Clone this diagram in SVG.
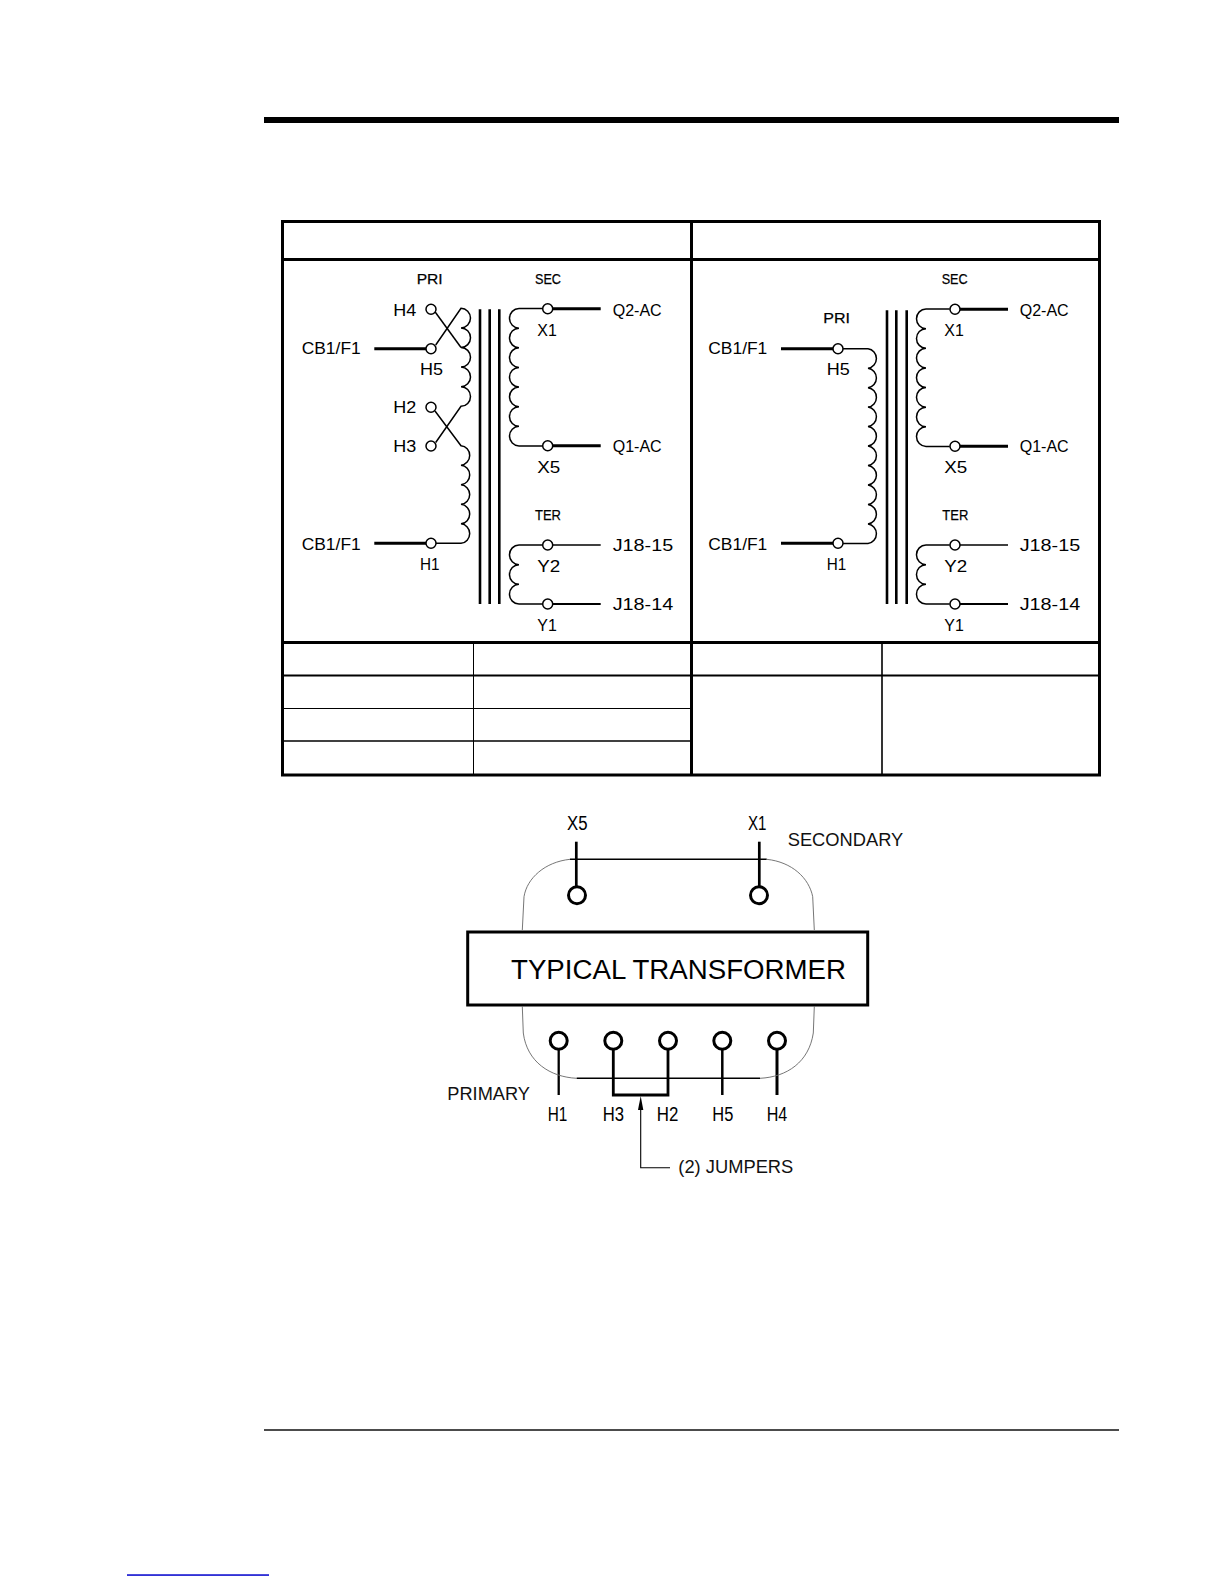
<svg xmlns="http://www.w3.org/2000/svg" width="1225" height="1585" viewBox="0 0 1225 1585">
<style>
text{font-family:"Liberation Sans",Arial,sans-serif;fill:#000}
.c{font-size:16.5px}
.l{font-size:19.5px}
.t{font-size:15px;stroke:#000;stroke-width:.25}
.h{font-size:17.5px;fill:#111}
.w{fill:none;stroke:#000;stroke-width:1.5}
.w2{fill:none;stroke:#000;stroke-width:2}
.b{fill:none;stroke:#000;stroke-width:3}
.core{fill:none;stroke:#000;stroke-width:2.6}
.tb{stroke:#000;stroke-width:3;fill:none}
.g{fill:none;stroke:#666;stroke-width:.9}
.n{fill:#fff;stroke:#000;stroke-width:1.5}
.m{fill:#fff;stroke:#000;stroke-width:3}
</style>
<rect width="1225" height="1585" fill="#fff"/>
<g id="page-rules">
<rect x="264" y="117" width="855" height="6" fill="#000"/>
<rect x="264" y="1429.3" width="855" height="1.4" fill="#000"/>
<rect x="127" y="1574.3" width="142" height="1.5" fill="#0000cc"/>
</g>
<g id="table">
<rect class="tb" x="282.5" y="221.5" width="817" height="553.5"/>
<path class="tb" d="M282.5,259.5H1099.5M282.5,642.5H1099.5M691.5,221.5V775"/>
<path d="M282.5,675.5H1099.5" stroke="#000" stroke-width="2" fill="none"/>
<path d="M282.5,708.5H691.5" stroke="#000" stroke-width="1" fill="none"/>
<path d="M282.5,741H691.5" stroke="#000" stroke-width="1.6" fill="none"/>
<path d="M473.5,642.5V775" stroke="#000" stroke-width="1" fill="none"/>
<path d="M882,642.5V775" stroke="#000" stroke-width="1.6" fill="none"/>
</g>
<g id="connectors">
<g id="left-wiring">
<path class="w" d="M435.7,345L461,308.3a9.5,9.8 0 0 1 0,19.6a9.5,9.8 0 0 1 0,19.6a9.5,9.8 0 0 1 0,19.6a9.5,9.8 0 0 1 0,19.6a9.5,9.8 0 0 1 0,19.6L435.7,442.5"/>
<path class="w" d="M435,311.7L461,347.5"/>
<path class="w" d="M435,411L461,445.7a9.5,9.8 0 0 1 0,19.53a9.5,9.8 0 0 1 0,19.53a9.5,9.8 0 0 1 0,19.53a9.5,9.8 0 0 1 0,19.53a9.5,9.8 0 0 1 0,19.53H436"/>
<path class="b" d="M374.3,348.7H426M374.3,543.3H426"/>
<path class="core" d="M480,309.3V604M489.7,309.3V604M499.3,309.3V604"/>
<path class="w" d="M542.7,308.5H519a9.5,9.8 0 0 0 0,19.63a9.5,9.8 0 0 0 0,19.63a9.5,9.8 0 0 0 0,19.63a9.5,9.8 0 0 0 0,19.63a9.5,9.8 0 0 0 0,19.63a9.5,9.8 0 0 0 0,19.63a9.5,9.8 0 0 0 0,19.63H542.7"/>
<path class="b" d="M553,308.7H600.7M553,445.7H600.7"/>
<path class="w" d="M542.7,545H519a9.5,9.8 0 0 0 0,19.67a9.5,9.8 0 0 0 0,19.67a9.5,9.8 0 0 0 0,19.67H542.7"/>
<path class="w" d="M553,545H600.7"/>
<path class="w2" d="M553,604H600.7"/>
</g>
<g id="right-wiring">
<path class="w" d="M843,348.7H868a9.5,9.8 0 0 1 0,19.47a9.5,9.8 0 0 1 0,19.47a9.5,9.8 0 0 1 0,19.47a9.5,9.8 0 0 1 0,19.47a9.5,9.8 0 0 1 0,19.47a9.5,9.8 0 0 1 0,19.47a9.5,9.8 0 0 1 0,19.47a9.5,9.8 0 0 1 0,19.47a9.5,9.8 0 0 1 0,19.47a9.5,9.8 0 0 1 0,19.47H843"/>
<path class="b" d="M781,348.7H833M781,543.3H833"/>
<path class="core" d="M887,310.3V604M896.3,310.3V604M906.7,310.3V604"/>
<path class="w" d="M949.7,309H926a9.5,9.8 0 0 0 0,19.63a9.5,9.8 0 0 0 0,19.63a9.5,9.8 0 0 0 0,19.63a9.5,9.8 0 0 0 0,19.63a9.5,9.8 0 0 0 0,19.63a9.5,9.8 0 0 0 0,19.63a9.5,9.8 0 0 0 0,19.63H949.7"/>
<path class="b" d="M960,309.2H1008M960,446.3H1008"/>
<path class="w" d="M949.7,545H926a9.5,9.8 0 0 0 0,19.67a9.5,9.8 0 0 0 0,19.67a9.5,9.8 0 0 0 0,19.67H949.7"/>
<path class="w" d="M960,545H1008"/>
<path class="w2" d="M960,604H1008"/>
</g>
<g id="transformer-wiring">
<path d="M576.3,841.7V887" stroke="#000" stroke-width="2.7" fill="none"/>
<path d="M759.3,841.7V887" stroke="#000" stroke-width="2.7" fill="none"/>
<path d="M558.7,1049V1095" stroke="#000" stroke-width="2.3" fill="none"/>
<path d="M613.3,1049V1095H668V1049" stroke="#000" stroke-width="2.8" fill="none"/>
<path d="M722.3,1049V1095" stroke="#000" stroke-width="2.5" fill="none"/>
<path d="M777,1049V1095" stroke="#000" stroke-width="3" fill="none"/>
<path d="M670,1167.7H640.7V1108" stroke="#000" stroke-width="1.1" fill="none"/>
<path d="M640.7,1096L643.3,1110H638Z" fill="#000"/>
</g>
</g>
<g id="left-schematic">
<text class="t" x="416.7" y="284" textLength="26" lengthAdjust="spacingAndGlyphs">PRI</text>
<text class="t" x="535" y="284" textLength="26" lengthAdjust="spacingAndGlyphs">SEC</text>
<text class="t" x="535" y="520" textLength="26" lengthAdjust="spacingAndGlyphs">TER</text>
<g id="L-H4"><circle class="n" cx="431" cy="309.3" r="5"/><text class="c" x="393.3" y="315.7" textLength="23" lengthAdjust="spacingAndGlyphs">H4</text></g>
<g id="L-H5"><circle class="n" cx="431" cy="348.7" r="5"/><text class="c" x="420" y="375" textLength="23" lengthAdjust="spacingAndGlyphs">H5</text></g>
<g id="L-H2"><circle class="n" cx="431" cy="407.3" r="5"/><text class="c" x="393.3" y="412.7" textLength="23" lengthAdjust="spacingAndGlyphs">H2</text></g>
<g id="L-H3"><circle class="n" cx="431" cy="446" r="5"/><text class="c" x="393.3" y="451.7" textLength="23" lengthAdjust="spacingAndGlyphs">H3</text></g>
<g id="L-H1"><circle class="n" cx="431" cy="543.3" r="5"/><text class="c" x="420" y="570" textLength="19.5" lengthAdjust="spacingAndGlyphs">H1</text></g>
<text class="c" x="301.7" y="354" textLength="59" lengthAdjust="spacingAndGlyphs">CB1/F1</text>
<text class="c" x="301.7" y="550" textLength="59" lengthAdjust="spacingAndGlyphs">CB1/F1</text>
<g id="L-X1"><circle class="n" cx="547.7" cy="308.7" r="5"/><text class="c" x="537.3" y="336" textLength="19.5" lengthAdjust="spacingAndGlyphs">X1</text></g>
<g id="L-X5"><circle class="n" cx="547.7" cy="445.7" r="5"/><text class="c" x="537.3" y="472.7" textLength="23" lengthAdjust="spacingAndGlyphs">X5</text></g>
<g id="L-Y2"><circle class="n" cx="547.7" cy="545" r="5"/><text class="c" x="537.3" y="572.3" textLength="23" lengthAdjust="spacingAndGlyphs">Y2</text></g>
<g id="L-Y1"><circle class="n" cx="547.7" cy="604" r="5"/><text class="c" x="537.3" y="630.7" textLength="19.5" lengthAdjust="spacingAndGlyphs">Y1</text></g>
<text class="c" x="612.7" y="315.7" textLength="49" lengthAdjust="spacingAndGlyphs">Q2-AC</text>
<text class="c" x="612.7" y="451.7" textLength="49" lengthAdjust="spacingAndGlyphs">Q1-AC</text>
<text class="c" x="612.7" y="551" textLength="60.5" lengthAdjust="spacingAndGlyphs">J18-15</text>
<text class="c" x="612.7" y="610" textLength="60.5" lengthAdjust="spacingAndGlyphs">J18-14</text>
</g>
<g id="right-schematic">
<text class="t" x="823.3" y="323.3" textLength="26.7" lengthAdjust="spacingAndGlyphs">PRI</text>
<text class="t" x="941.7" y="284" textLength="26" lengthAdjust="spacingAndGlyphs">SEC</text>
<text class="t" x="942.3" y="520" textLength="26" lengthAdjust="spacingAndGlyphs">TER</text>
<g id="R-H5"><circle class="n" cx="838" cy="348.7" r="5"/><text class="c" x="826.7" y="375" textLength="23" lengthAdjust="spacingAndGlyphs">H5</text></g>
<g id="R-H1"><circle class="n" cx="838" cy="543.3" r="5"/><text class="c" x="826.7" y="570" textLength="19.5" lengthAdjust="spacingAndGlyphs">H1</text></g>
<text class="c" x="708.3" y="354" textLength="59" lengthAdjust="spacingAndGlyphs">CB1/F1</text>
<text class="c" x="708.3" y="550" textLength="59" lengthAdjust="spacingAndGlyphs">CB1/F1</text>
<g id="R-X1"><circle class="n" cx="955" cy="309.2" r="5"/><text class="c" x="944.3" y="336" textLength="19.5" lengthAdjust="spacingAndGlyphs">X1</text></g>
<g id="R-X5"><circle class="n" cx="955" cy="446.3" r="5"/><text class="c" x="944.3" y="472.7" textLength="23" lengthAdjust="spacingAndGlyphs">X5</text></g>
<g id="R-Y2"><circle class="n" cx="955" cy="545" r="5"/><text class="c" x="944.3" y="572.3" textLength="23" lengthAdjust="spacingAndGlyphs">Y2</text></g>
<g id="R-Y1"><circle class="n" cx="955" cy="604" r="5"/><text class="c" x="944.3" y="630.7" textLength="19.5" lengthAdjust="spacingAndGlyphs">Y1</text></g>
<text class="c" x="1019.7" y="315.7" textLength="49" lengthAdjust="spacingAndGlyphs">Q2-AC</text>
<text class="c" x="1019.7" y="451.7" textLength="49" lengthAdjust="spacingAndGlyphs">Q1-AC</text>
<text class="c" x="1019.7" y="551" textLength="60.5" lengthAdjust="spacingAndGlyphs">J18-15</text>
<text class="c" x="1019.7" y="610" textLength="60.5" lengthAdjust="spacingAndGlyphs">J18-14</text>
</g>
<g id="transformer">
<path class="w" d="M570,859.3H766.7"/>
<path class="g" d="M570,859.3C545,862 527,878 524,896.7L522.3,930M766.7,859.3C792,862 809,878 812.7,896.7L814.3,930"/>
<path class="g" d="M522.3,1006.7L523.3,1033C527,1062 550,1077 576.7,1078.3M814.3,1006.7L813.3,1033C809,1062 787,1077 760,1078.3"/>
<path class="w" d="M576.7,1078.3H760"/>
<rect x="467.7" y="932" width="400" height="73" fill="none" stroke="#000" stroke-width="3"/>
<text x="511" y="979.3" font-size="27" textLength="335" lengthAdjust="spacingAndGlyphs" fill="#111">TYPICAL TRANSFORMER</text>
<g id="T-X5"><circle class="m" cx="577" cy="895.3" r="8.5"/><text class="l" x="567" y="830" textLength="20.5" lengthAdjust="spacingAndGlyphs">X5</text></g>
<g id="T-X1"><circle class="m" cx="759" cy="895.3" r="8.5"/><text class="l" x="748" y="830" textLength="18.5" lengthAdjust="spacingAndGlyphs">X1</text></g>
<g id="T-H1"><circle class="m" cx="558.7" cy="1040.7" r="8.5"/><text class="l" x="547.7" y="1120.7" textLength="19.6" lengthAdjust="spacingAndGlyphs">H1</text></g>
<g id="T-H3"><circle class="m" cx="613.3" cy="1040.7" r="8.5"/><text class="l" x="602.7" y="1120.7" textLength="21.3" lengthAdjust="spacingAndGlyphs">H3</text></g>
<g id="T-H2"><circle class="m" cx="668" cy="1040.7" r="8.5"/><text class="l" x="656.7" y="1120.7" textLength="21.6" lengthAdjust="spacingAndGlyphs">H2</text></g>
<g id="T-H5"><circle class="m" cx="722.3" cy="1040.7" r="8.5"/><text class="l" x="712.3" y="1120.7" textLength="21" lengthAdjust="spacingAndGlyphs">H5</text></g>
<g id="T-H4"><circle class="m" cx="777" cy="1040.7" r="8.5"/><text class="l" x="766.7" y="1120.7" textLength="20.6" lengthAdjust="spacingAndGlyphs">H4</text></g>
<text class="h" x="787.7" y="846" textLength="115.6" lengthAdjust="spacingAndGlyphs">SECONDARY</text>
<text class="h" x="447.3" y="1100" textLength="82.7" lengthAdjust="spacingAndGlyphs">PRIMARY</text>
<text class="h" x="678.3" y="1173.3" textLength="115" lengthAdjust="spacingAndGlyphs">(2) JUMPERS</text>
</g>
</svg>
